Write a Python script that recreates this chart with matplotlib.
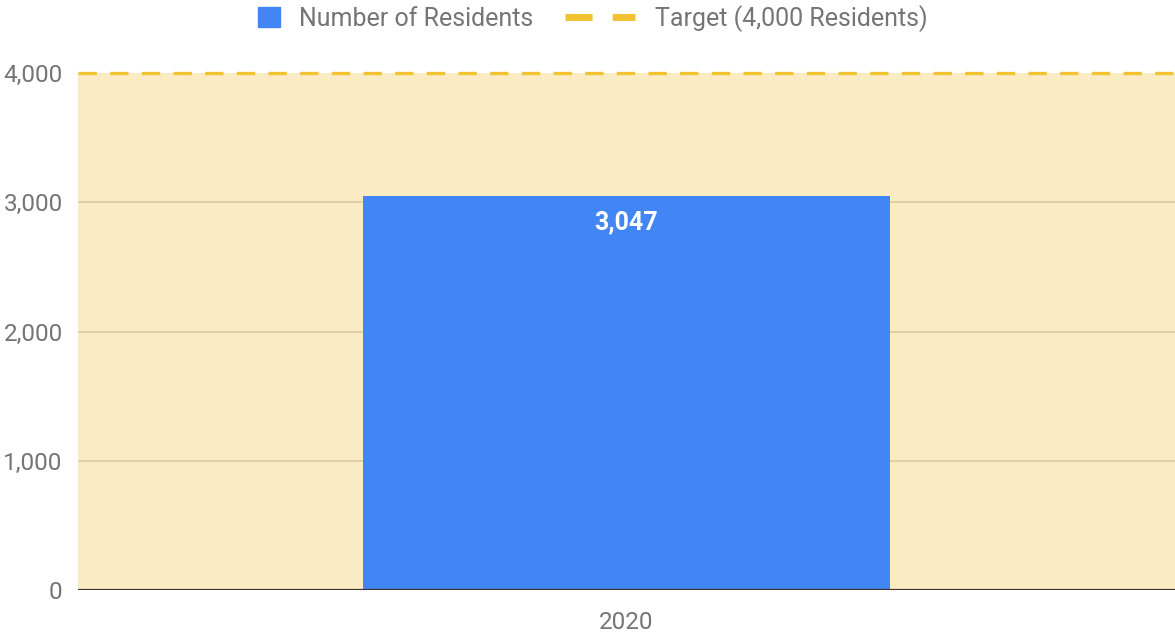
import matplotlib.pyplot as plt
from matplotlib.lines import Line2D
from matplotlib.patches import Patch

plt.rcParams['font.family'] = ['Roboto', 'DejaVu Sans']

years = ['2020']
residents = [3047]
target = 4000
y_ticks = [0, 1000, 2000, 3000, 4000]

bar_color = '#4285F4'
target_color = '#F1C232'
fill_color = '#FAEBC2'
grid_color = '#D8CB9E'
text_color = '#757575'

fig = plt.figure(figsize=(11.75, 6.34), dpi=100)
ax = fig.add_axes([78 / 1175, 1 - 590 / 634, 1 - 78 / 1175, (590 - 73) / 634])

ax.set_xlim(-0.5, 0.5)
ax.set_ylim(0, target)

# target band and gridlines
ax.axhspan(0, target, color=fill_color, zorder=0)
for t in y_ticks[1:-1]:
    ax.axhline(t, color=grid_color, linewidth=1.2, zorder=1)

bars = ax.bar(years, residents, width=0.48, color=bar_color, zorder=2)
for b, v in zip(bars, residents):
    ax.text(b.get_x() + b.get_width() / 2, v - 200, f'{v:,}',
            ha='center', va='center', color='white', fontsize=18,
            fontweight='bold', zorder=4)

ax.axhline(target, color=target_color, linewidth=2.4, dashes=[5.5, 4],
           zorder=3, clip_on=False)
ax.axhline(0, color='#3a3528', linewidth=1.6, zorder=3)

ax.set_yticks(y_ticks)
ax.set_yticklabels([f'{t:,}' for t in y_ticks])
ax.tick_params(axis='both', length=0, labelsize=17.5, labelcolor=text_color)
ax.tick_params(axis='y', pad=11)
ax.tick_params(axis='x', pad=15)
for s in ax.spines.values():
    s.set_visible(False)

# legend: two parts so the square and the dashed handle get their own widths
leg1 = fig.legend(handles=[Patch(color=bar_color, label='Number of Residents')],
                  loc='center', bbox_to_anchor=(396 / 1175, 1 - 18.5 / 634),
                  frameon=False, fontsize=18, handlelength=0.88, handleheight=0.88,
                  handletextpad=0.75, borderpad=0)
leg2 = fig.legend(handles=[Line2D([0], [0], color=target_color, linewidth=5,
                                  dashes=[3.9, 2.9], label='Target (4,000 Residents)')],
                  loc='center', bbox_to_anchor=(746 / 1175, 1 - 18.5 / 634),
                  frameon=False, fontsize=18, handlelength=2.8,
                  handletextpad=0.8, borderpad=0)
for leg in (leg1, leg2):
    for t in leg.get_texts():
        t.set_color(text_color)

fig.savefig('out.png', dpi=100)
